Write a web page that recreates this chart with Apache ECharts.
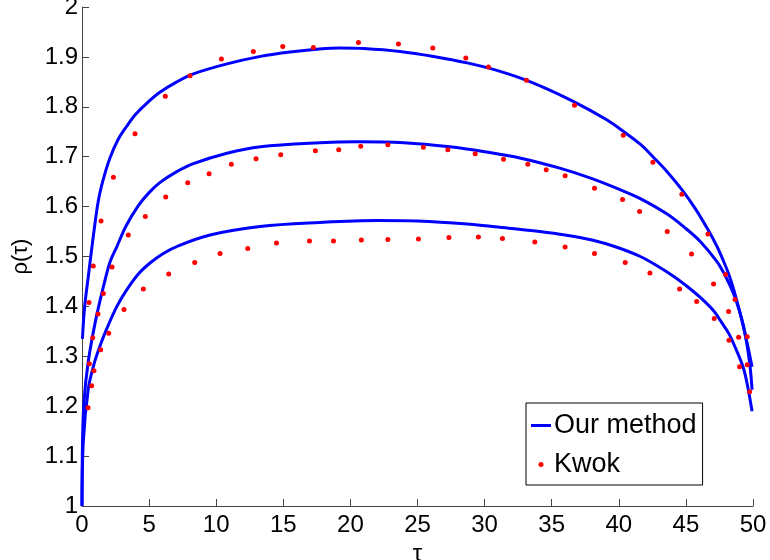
<!DOCTYPE html>
<html>
<head>
<meta charset="utf-8">
<script src="https://cdn.jsdelivr.net/npm/echarts@6/dist/echarts.min.js"></script>
<style>
  html, body { margin: 0; padding: 0; background: #fff; }
  #chart { width: 770px; height: 560px; }
</style>
</head>
<body>
<div id="chart"></div>
<script>
// "Our method" curves, [tau, rho]
const curveTop = [
    [0.03, 1.335], [0.2, 1.40], [0.47, 1.46], [0.84, 1.54], [1.22, 1.612], [1.59, 1.655],
    [2.09, 1.698], [2.7, 1.735], [3.33, 1.761], [4.0, 1.785], [4.82, 1.807], [5.8, 1.829],
    [7.0, 1.849], [8.3, 1.866], [10.8, 1.886], [13.3, 1.901], [15.5, 1.91], [17.7, 1.916],
    [19.2, 1.918], [21, 1.917], [23.7, 1.911], [26.2, 1.901], [28.7, 1.888], [31.16, 1.871],
    [33.6, 1.848], [36.6, 1.811], [39.1, 1.774], [40.33, 1.751], [41.6, 1.725], [42.54, 1.70],
    [43.6, 1.67], [44.7, 1.634], [45.7, 1.596], [46.64, 1.554], [47.3, 1.521], [47.8, 1.491],
    [48.2, 1.464], [48.56, 1.434], [49.06, 1.384], [49.55, 1.328], [49.93, 1.279]
];
const curveMid = [
    [0, 1.0], [0.04, 1.13], [0.15, 1.21], [0.47, 1.29], [1.0, 1.37], [1.6, 1.44],
    [2.1, 1.49], [2.6, 1.52], [3.3, 1.562], [4.2, 1.602], [5.0, 1.628], [5.8, 1.648],
    [7.0, 1.669], [8.3, 1.686], [10.8, 1.707], [13.3, 1.72], [17.7, 1.728], [20.5, 1.73],
    [24, 1.728], [27.4, 1.72], [30, 1.71], [32.7, 1.697], [35.6, 1.677], [37.9, 1.657],
    [40.0, 1.635], [41.6, 1.616], [43.6, 1.585], [45.0, 1.556], [46.07, 1.53], [47.3, 1.49],
    [48.0, 1.458], [48.56, 1.425], [49.0, 1.39], [49.3, 1.36], [49.6, 1.315], [49.8, 1.275],
    [49.93, 1.233]
];
const curveLow = [
    [0, 1.0], [0.1, 1.13], [0.47, 1.235], [0.9, 1.285], [1.4, 1.325], [1.84, 1.355],
    [2.6, 1.40], [3.33, 1.433], [4.2, 1.465], [5.07, 1.487], [6.0, 1.505], [7.06, 1.52],
    [9.54, 1.543], [13.27, 1.56], [17.7, 1.568], [22, 1.572], [25, 1.571], [28.7, 1.565],
    [32, 1.556], [34.1, 1.550], [36, 1.543], [38, 1.533], [39.8, 1.519], [41.6, 1.50],
    [43.0, 1.479], [44.1, 1.46], [45.0, 1.442], [46.07, 1.418], [47.11, 1.39], [47.56, 1.372],
    [48.21, 1.345], [48.8, 1.31], [49.3, 1.275], [49.6, 1.24], [49.93, 1.19]
];

// Kwok points, [tau, rho]
const kwokTop = [
    [0.52, 1.408], [0.84, 1.481], [1.42, 1.571], [2.34, 1.659], [3.95, 1.746], [6.21, 1.821],
    [8.05, 1.862], [10.39, 1.896], [12.77, 1.911], [14.96, 1.921], [17.24, 1.919], [20.6, 1.929],
    [23.58, 1.926], [26.14, 1.918], [28.6, 1.898], [30.29, 1.88], [33.12, 1.853], [36.7, 1.803],
    [40.33, 1.743], [42.54, 1.689], [44.7, 1.625], [46.64, 1.545], [47.96, 1.464], [48.66, 1.414],
    [49.57, 1.339]
];
const kwokMid = [
    [0.55, 1.285], [0.8, 1.337], [1.19, 1.385], [1.59, 1.426], [2.24, 1.479], [3.45, 1.543],
    [4.72, 1.58], [6.24, 1.619], [7.88, 1.648], [9.47, 1.666], [11.13, 1.685], [12.97, 1.696],
    [14.81, 1.704], [17.39, 1.712], [19.13, 1.714], [20.77, 1.721], [22.79, 1.724], [25.44, 1.719],
    [27.26, 1.714], [29.3, 1.706], [31.41, 1.695], [33.22, 1.685], [34.59, 1.674], [36.0, 1.662],
    [38.19, 1.637], [40.28, 1.614], [41.55, 1.59], [43.61, 1.55], [45.42, 1.505], [47.06, 1.445],
    [48.18, 1.39], [48.93, 1.338], [49.57, 1.283]
];
const kwokLow = [
    [0.45, 1.197], [0.72, 1.241], [0.89, 1.271], [1.39, 1.313], [1.99, 1.346], [3.13, 1.394],
    [4.57, 1.435], [6.46, 1.465], [8.4, 1.488], [10.29, 1.506], [12.35, 1.516], [14.49, 1.527],
    [16.95, 1.531], [18.74, 1.531], [20.82, 1.533], [22.79, 1.534], [25.07, 1.535], [27.34, 1.538],
    [29.54, 1.539], [31.33, 1.536], [33.74, 1.529], [36.0, 1.519], [38.19, 1.506], [40.48, 1.488],
    [42.32, 1.467], [44.53, 1.435], [45.8, 1.41], [47.11, 1.376], [48.21, 1.332], [49.0, 1.279],
    [49.75, 1.229]
];

const chartDom = document.getElementById('chart');
const myChart = echarts.init(chartDom, null, { renderer: 'canvas' });

const font = 'Liberation Sans';
const axisColor = '#444';

function lineSeries(data) {
    return {
        name: 'Our method',
        type: 'line',
        data: data,
        symbol: 'none',
        smooth: 0.35,
        lineStyle: { color: '#0000ff', width: 3 },
        itemStyle: { color: '#0000ff' },
        z: 2
    };
}

function dotSeries(data) {
    return {
        name: 'Kwok',
        type: 'scatter',
        data: data,
        symbol: 'circle',
        symbolSize: 5,
        itemStyle: { color: '#ff0000', opacity: 1 },
        z: 3
    };
}

const option = {
    backgroundColor: '#fff',
    animation: false,
    grid: { left: 82, right: 17, top: 7, bottom: 54, containLabel: false, outerBoundsMode: 'none' },
    legend: {
        orient: 'vertical',
        left: 526,
        top: 403,
        padding: [9, 6, 7, 5],
        itemGap: 12,
        itemWidth: 20,
        itemHeight: 5,
        backgroundColor: '#fff',
        borderColor: '#000',
        borderWidth: 1,
        borderRadius: 0,
        textStyle: { fontFamily: font, fontSize: 27, color: '#000', padding: [0, 0, 0, -2] },
        data: [
            { name: 'Our method', icon: 'path://M0,0L20,0L20,3L0,3Z', itemStyle: { color: '#0000ff' } },
            { name: 'Kwok', icon: 'circle', itemStyle: { color: '#ff0000', opacity: 1 } }
        ]
    },
    xAxis: {
        type: 'value',
        min: 0,
        max: 50,
        interval: 5,
        name: 'τ',
        nameLocation: 'middle',
        nameGap: 33,
        nameTextStyle: { fontFamily: font, fontSize: 24, color: '#000' },
        axisLine: { show: true, lineStyle: { color: axisColor, width: 1 } },
        axisTick: { show: true, inside: true, length: 7, lineStyle: { color: axisColor } },
        axisLabel: { fontFamily: font, fontSize: 24, color: '#000', margin: 7 },
        splitLine: { show: false }
    },
    yAxis: {
        type: 'value',
        min: 1,
        max: 2,
        interval: 0.1,
        name: 'ρ(τ)',
        nameLocation: 'middle',
        nameRotate: 90,
        nameGap: 50,
        nameTextStyle: { fontFamily: font, fontSize: 22, color: '#000' },
        axisLine: { show: true, lineStyle: { color: axisColor, width: 1 } },
        axisTick: { show: true, inside: true, length: 7, lineStyle: { color: axisColor } },
        axisLabel: { fontFamily: font, fontSize: 24, color: '#000', margin: 4 },
        splitLine: { show: false }
    },
    series: [
        lineSeries(curveTop),
        lineSeries(curveMid),
        lineSeries(curveLow),
        dotSeries(kwokTop),
        dotSeries(kwokMid),
        dotSeries(kwokLow)
    ]
};

option && myChart.setOption(option);
</script>
</body>
</html>
